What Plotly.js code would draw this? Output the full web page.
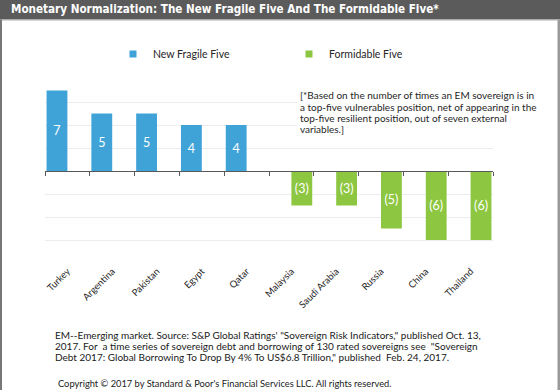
<!DOCTYPE html>
<html>
<head>
<meta charset="utf-8">
<script src="https://cdn.plot.ly/plotly-3.0.1.min.js"></script>
<style>html,body{margin:0;padding:0;background:#fff;}#chart{width:560px;height:390px;}</style>
</head>
<body>
<div id="chart"></div>
<script>
// ---- data ----
var countries = ["Turkey","Argentina","Pakistan","Egypt","Qatar","Malaysia","Saudi Arabia","Russia","China","Thailand"];
var fragileFive = [7, 5, 5, 4, 4, null, null, null, null, null];
var formidableFive = [null, null, null, null, null, -3, -3, -5, -6, -6];
var seriesNames = ["New Fragile Five", "Formidable Five"];
var titleText = "Monetary Normalization: The New Fragile Five And The Formidable Five*";
var noteLines = [
  "[*Based on the number of times an EM sovereign is in",
  "a top-five vulnerables position, net of appearing in the",
  "top-five resilient position, out of seven external",
  "variables.]"
];
var footLines = [
  "EM--Emerging market. Source: S&amp;P Global Ratings' \"Sovereign Risk Indicators,\" published Oct. 13,",
  "2017. For  a time series of sovereign debt and borrowing of 130 rated sovereigns see  \"Sovereign",
  "Debt 2017: Global Borrowing To Drop By 4% To US$6.8 Trillion,\" published  Feb. 24, 2017."
];
var copyrightText = "Copyright © 2017 by Standard &amp; Poor's Financial Services LLC. All rights reserved.";

// ---- layout helpers (pixel -> paper) ----
var W = 560, H = 390, L = 45, R = 67, T = 79, B = 127;
var PW = W - L - R, PH = H - T - B;
function px(x){ return (x - L) / PW; }
function py(y){ return (H - B - y) / PH; }

var blue = "#3fa3d8", green = "#8dc640";
var FONT = "Lato, 'Noto Sans', sans-serif";

var traces = [
  {type:"bar", x:countries, y:fragileFive, name:seriesNames[0], marker:{color:blue},
   texttemplate:"%{y}", textposition:"inside", insidetextanchor:"middle", constraintext:"none",
   textfont:{color:"#ffffff", size:12.5, family:FONT}, showlegend:false, hoverinfo:"x+y"},
  {type:"bar", x:countries, y:formidableFive, name:seriesNames[1], marker:{color:green},
   texttemplate:"%{y:(d}", textposition:"inside", insidetextanchor:"middle", constraintext:"none",
   textfont:{color:"#ffffff", size:12.5, family:FONT}, showlegend:false, hoverinfo:"x+y"},
  // legend entries
  {type:"scatter", mode:"markers", x:[null], y:[null], name:seriesNames[0],
   marker:{symbol:"square", size:7, color:blue}, hoverinfo:"skip"},
  {type:"scatter", mode:"markers", x:[null], y:[null], name:seriesNames[1],
   marker:{symbol:"square", size:7, color:green}, hoverinfo:"skip"},
  // carrier for the zero-line axis with boundary ticks
  {type:"bar", x:countries, y:countries.map(function(){return null;}), xaxis:"x2",
   showlegend:false, hoverinfo:"skip"}
];

var annotations = [];
annotations.push({xref:"paper", yref:"paper", x:px(9), y:py(8.5), xanchor:"left", yanchor:"middle",
  text:"<b>"+titleText+"</b>", showarrow:false,
  font:{family:"'Liberation Sans Narrow', 'DejaVu Sans Condensed', 'Liberation Sans', Arial, sans-serif", size:11.6, color:"#ffffff"}});
var noteY = [95.3, 107.3, 118.1, 128.9];
noteLines.forEach(function(t, i){
  annotations.push({xref:"paper", yref:"paper", x:px(299), y:py(noteY[i]), xanchor:"left", yanchor:"middle",
    text:t, showarrow:false, borderpad:0,
    font:{family:FONT, size:10, color:"#262626"}});
});
var footY = [335, 346, 357];
footLines.forEach(function(t, i){
  annotations.push({xref:"paper", yref:"paper", x:px(54), y:py(footY[i]), xanchor:"left", yanchor:"middle",
    text:t, showarrow:false, borderpad:0,
    font:{family:FONT, size:10, color:"#1a1a1a"}});
});
annotations.push({xref:"paper", yref:"paper", x:px(57), y:py(383.3), xanchor:"left", yanchor:"middle",
  text:copyrightText, showarrow:false, borderpad:0,
  font:{family:FONT, size:9.3, color:"#1a1a1a"}});

var shapes = [
  {type:"rect", xref:"paper", yref:"paper", x0:px(-5), x1:px(565), y0:py(19.5), y1:py(-5),
   fillcolor:"#5b5b5b", line:{width:0}, layer:"below"},
  {type:"rect", xref:"paper", yref:"paper", x0:px(-5), x1:px(2), y0:py(395), y1:py(19.5),
   fillcolor:"#777777", line:{width:0}},
  {type:"rect", xref:"paper", yref:"paper", x0:px(557.5), x1:px(565), y0:py(395), y1:py(19.5),
   fillcolor:"#9a9a9a", line:{width:0}},
  {type:"line", xref:"paper", yref:"paper", x0:px(2), x1:px(557.5), y0:py(20.5), y1:py(20.5),
   line:{color:"#d8d8d8", width:1}},
  // white backing behind the note text (hides gridlines there)
  {type:"rect", xref:"paper", yref:"paper", x0:px(297), x1:px(545), y0:py(134), y1:py(89),
   fillcolor:"#ffffff", line:{width:0}, layer:"above"}
];

var layout = {
  width:W, height:H,
  margin:{l:L, r:R, t:T, b:B, pad:0},
  paper_bgcolor:"#ffffff", plot_bgcolor:"#ffffff",
  font:{family:FONT, color:"#262626"},
  barmode:"group", bargap:0.07, bargroupgap:0,
  showlegend:true,
  legend:{orientation:"h", x:px(113), xanchor:"left", y:py(54), yanchor:"middle",
    font:{family:FONT, size:10.5, color:"#262626"}, bgcolor:"rgba(0,0,0,0)",
    entrywidth:131, entrywidthmode:"pixels", itemclick:false},
  xaxis:{type:"category", categoryorder:"array", categoryarray:countries,
    showgrid:false, showline:false, zeroline:false,
    ticks:"", tickangle:-45,
    tickfont:{family:FONT, size:9.5, color:"#262626"}, fixedrange:true},
  xaxis2:{type:"category", overlaying:"x", matches:"x", anchor:"free", position:0.5,
    categoryorder:"array", categoryarray:countries,
    showticklabels:false, showgrid:false, zeroline:false,
    showline:true, linecolor:"#595959", linewidth:1,
    ticks:"outside", tickson:"boundaries", ticklen:4, tickcolor:"#595959", tickwidth:1},
  yaxis:{range:[-8, 8], dtick:2, tick0:0, showticklabels:false, ticks:"",
    showgrid:true, gridcolor:"#ececec", gridwidth:1, zeroline:false, showline:false, fixedrange:true},
  annotations:annotations,
  shapes:shapes
};

Plotly.newPlot("chart", traces, layout, {displayModeBar:false, staticPlot:true});
</script>
</body>
</html>
